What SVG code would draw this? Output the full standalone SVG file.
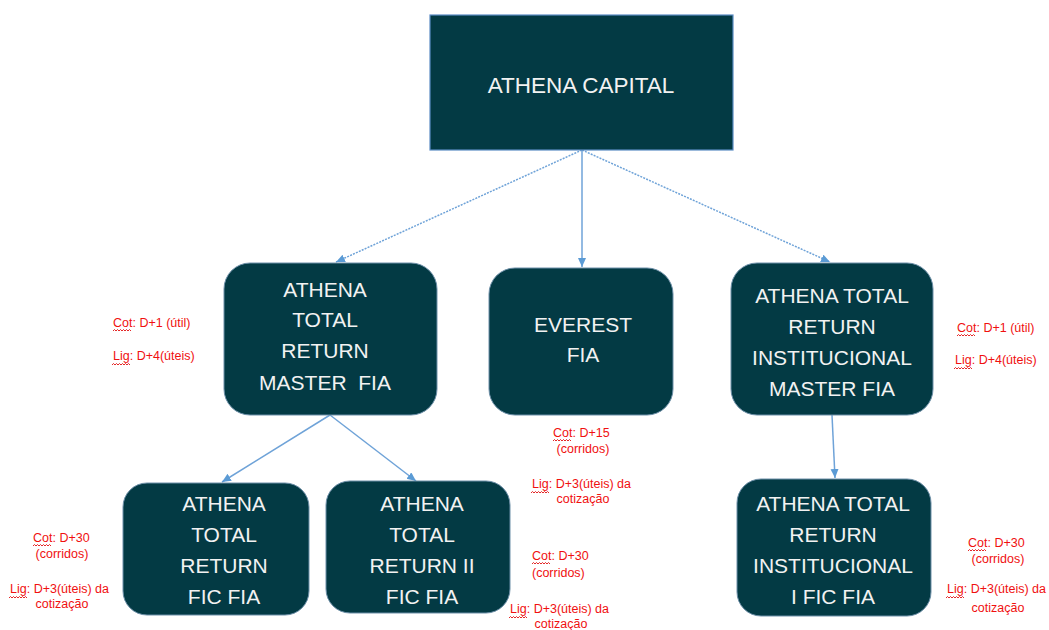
<svg xmlns="http://www.w3.org/2000/svg" xmlns:xlink="http://www.w3.org/1999/xlink" width="1049" height="630" viewBox="0 0 1049 630">
<style>
.node{fill:#033a44;stroke:#6d8fa8;stroke-width:1}
.top{fill:#033a44;stroke:#5b8cc4;stroke-width:1.2}
.nt{font-family:"Liberation Sans",Arial,sans-serif;font-size:21px;fill:#f2f2f2;text-anchor:middle}
.tt{font-family:"Liberation Sans",Arial,sans-serif;font-size:22.5px;fill:#f2f2f2;text-anchor:middle}
.an{font-family:"Liberation Sans",Arial,sans-serif;font-size:12.5px;fill:#f01010}
.m{text-anchor:middle}
.c{stroke:#6fa3d8;stroke-width:1.5;fill:none}
.d{stroke-dasharray:2 1.2}
.sq{stroke:#e01010;stroke-width:0.9;fill:none}
</style>
<defs>
<marker id="ah" markerWidth="10" markerHeight="10" refX="9" refY="4" orient="auto" markerUnits="userSpaceOnUse">
<path d="M0,0 L9,4 L0,8 Z" fill="#5b9bd5"/>
</marker>
<path id="sq" class="sq" d="M0 0 l1.5 -1.5 l1.5 1.5 l1.5 -1.5 l1.5 1.5 l1.5 -1.5 l1.5 1.5 l1.5 -1.5 l1.5 1.5 l1.5 -1.5 l1.5 1.5 l1.5 -1.5 l1.5 1.5"/>
</defs>

<g id="connectors">
<line class="c d" x1="582" y1="150" x2="336" y2="262" marker-end="url(#ah)"/>
<line class="c" x1="582" y1="150" x2="582" y2="267" marker-end="url(#ah)"/>
<line class="c d" x1="582" y1="150" x2="830" y2="262" marker-end="url(#ah)"/>
<line class="c" x1="330" y1="415" x2="222" y2="482" marker-end="url(#ah)"/>
<line class="c" x1="330" y1="415" x2="416" y2="481" marker-end="url(#ah)"/>
<line class="c" x1="832" y1="415" x2="835" y2="478" marker-end="url(#ah)"/>
</g>

<g id="athena-capital">
<rect class="top" x="430" y="15" width="303" height="135"/>
<text class="tt" x="581" y="93">ATHENA CAPITAL</text>
</g>

<g id="atr-master">
<rect class="node" x="224" y="263" width="213" height="152" rx="26"/>
<text class="nt" x="325" y="297">ATHENA</text>
<text class="nt" x="325" y="327">TOTAL</text>
<text class="nt" x="325" y="358">RETURN</text>
<text class="nt" x="325" y="390">MASTER&#160; FIA</text>
</g>

<g id="everest">
<rect class="node" x="489" y="268" width="184" height="147" rx="26"/>
<text class="nt" x="583" y="332">EVEREST</text>
<text class="nt" x="583" y="362">FIA</text>
</g>

<g id="atr-inst-master">
<rect class="node" x="731" y="263" width="202" height="152" rx="26"/>
<text class="nt" x="832" y="303">ATHENA TOTAL</text>
<text class="nt" x="832" y="334">RETURN</text>
<text class="nt" x="832" y="365">INSTITUCIONAL</text>
<text class="nt" x="832" y="396">MASTER FIA</text>
</g>

<g id="atr-fic">
<rect class="node" x="123" y="483" width="186" height="132" rx="24"/>
<text class="nt" x="224" y="511">ATHENA</text>
<text class="nt" x="224" y="542">TOTAL</text>
<text class="nt" x="224" y="573">RETURN</text>
<text class="nt" x="224" y="604">FIC FIA</text>
</g>

<g id="atr-ii-fic">
<rect class="node" x="326" y="481" width="184" height="132" rx="24"/>
<text class="nt" x="422" y="511">ATHENA</text>
<text class="nt" x="422" y="542">TOTAL</text>
<text class="nt" x="422" y="573">RETURN II</text>
<text class="nt" x="422" y="604">FIC FIA</text>
</g>

<g id="atr-inst-i-fic">
<rect class="node" x="737" y="479" width="194" height="137" rx="24"/>
<text class="nt" x="833" y="511">ATHENA TOTAL</text>
<text class="nt" x="833" y="542">RETURN</text>
<text class="nt" x="833" y="573">INSTITUCIONAL</text>
<text class="nt" x="833" y="604">I FIC FIA</text>
</g>

<g id="notes">
<text class="an" x="113" y="327">Cot: D+1 (útil)</text>
<use xlink:href="#sq" x="113" y="331"/>
<text class="an" x="113" y="360">Lig: D+4(úteis)</text>
<use xlink:href="#sq" x="112" y="365"/>

<text class="an" x="957" y="332">Cot: D+1 (útil)</text>
<use xlink:href="#sq" x="957" y="336"/>
<text class="an" x="955" y="364">Lig: D+4(úteis)</text>
<use xlink:href="#sq" x="954" y="369"/>

<text class="an" x="553" y="437">Cot: D+15</text>
<use xlink:href="#sq" x="553" y="441"/>
<text class="an m" x="583" y="453">(corridos)</text>
<text class="an" x="532" y="488">Lig: D+3(úteis) da</text>
<use xlink:href="#sq" x="531" y="493"/>
<text class="an m" x="583" y="503">cotização</text>

<text class="an" x="532" y="560">Cot: D+30</text>
<use xlink:href="#sq" x="532" y="564"/>
<text class="an" x="532" y="577">(corridos)</text>
<text class="an" x="510" y="613">Lig: D+3(úteis) da</text>
<use xlink:href="#sq" x="509" y="618"/>
<text class="an m" x="561" y="628">cotização</text>

<text class="an" x="33" y="542">Cot: D+30</text>
<use xlink:href="#sq" x="33" y="546"/>
<text class="an m" x="62" y="558">(corridos)</text>
<text class="an" x="10" y="593">Lig: D+3(úteis) da</text>
<use xlink:href="#sq" x="9" y="598"/>
<text class="an m" x="62" y="608">cotização</text>

<text class="an" x="968" y="547">Cot: D+30</text>
<use xlink:href="#sq" x="968" y="551"/>
<text class="an m" x="998" y="563">(corridos)</text>
<text class="an" x="947" y="593">Lig: D+3(úteis) da</text>
<use xlink:href="#sq" x="946" y="598"/>
<text class="an m" x="998" y="612">cotização</text>
</g>
</svg>
